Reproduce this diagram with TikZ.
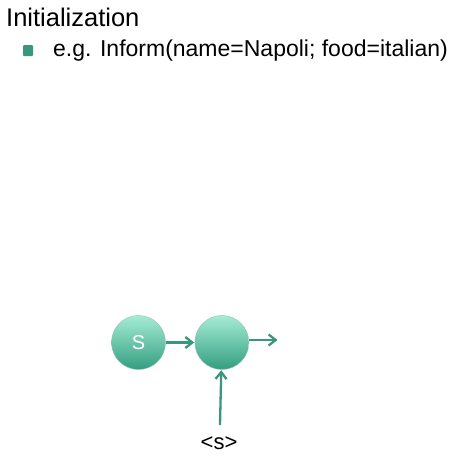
\documentclass[tikz,border=0pt]{standalone}
\usepackage{fontspec}
\setmainfont{Liberation Sans}
\usetikzlibrary{arrows,arrows.meta}
\usetikzlibrary{positioning}
\definecolor{tealTop}{RGB}{165,236,212}
\definecolor{tealBottom}{RGB}{52,158,128}
\definecolor{tealLine}{RGB}{58,150,125}
\tikzset{state/.style={circle, minimum size=54pt, inner sep=0pt, top color=tealTop, bottom color=tealBottom, draw=tealLine!60!white, line width=0.4pt, text=white, font=\fontsize{20}{24}\selectfont}}
\tikzset{link/.style={-{Straight Barb[length=7pt,width=11pt]}, line width=2.3pt, draw=tealLine, shorten >=0.5pt}}

\begin{document}
\begin{tikzpicture}[x=1pt,y=-1pt]
\useasboundingbox[fill=white] (0,0) rectangle (452,469);

% heading and bullet
\node[anchor=base west, inner sep=0pt, font=\fontsize{25.5}{30}\selectfont] (title) at (6,26) {Initialization};
\fill[tealLine, rounded corners=1pt] (23,45) rectangle (33,56);
\node[anchor=west, inner sep=0pt, font=\fontsize{23}{27}\selectfont] (example) at (53,51) {e.g. Inform(name=Napoli; food=italian)};

% states
\node[state] (s) at (138.5,342.5) {S};
\node[state, right=29pt of s] (h1) {};
\coordinate (out) at (278,340);
\node[font=\fontsize{22}{26}\selectfont, inner sep=0pt] (tok) at (219,443) {<s>};
\coordinate (tokTop) at (220,425);

\draw[link] (s) -- (h1);
\draw[link] (h1.east |- out) -- (out);
\draw[link] (tokTop) -- (h1);
\end{tikzpicture}
\end{document}
